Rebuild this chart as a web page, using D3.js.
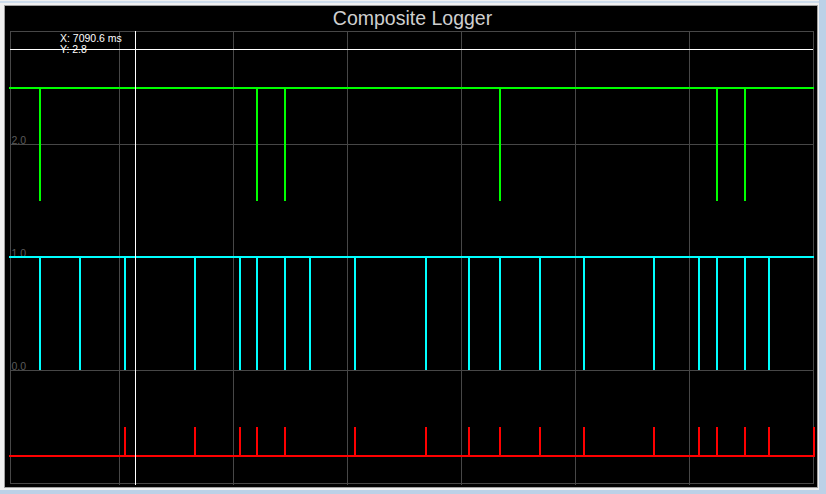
<!DOCTYPE html>
<html>
<head>
<meta charset="utf-8">
<script src="https://cdn.jsdelivr.net/npm/d3@7"></script>
<style>
  html, body { margin: 0; padding: 0; background: #f0f0f0; overflow: hidden; }
  svg { display: block; font-family: "Liberation Sans", Arial, sans-serif; }
</style>
</head>
<body>
<svg id="chart" width="826" height="494"></svg>
<script>
// time window shown (ms) and trace span
const xDomain = [6405, 10805];
const traceSpan = [6400, 10810];
const yDomain = [-1, 3];

// vertical grid positions (ms) and y ticks
const xGrid = [7000, 7625, 8250, 8875, 9500, 10125];
const yTicks = [0, 1, 2];
const yTickLabels = ['0.0', '1.0', '2.0'];

// green trace: high 2.5, dips to 1.5
const greenEvents = [6569, 7758, 7912, 9090, 10279, 10432];
// cyan trace: high 1.0, dips to 0.0
const cyanEvents = [6569, 6789, 7035, 7419, 7665, 7758, 7912, 8049, 8295, 8685,
  8920, 9090, 9309, 9550, 9934, 10180, 10279, 10432, 10564];
// red trace: base -0.76, spikes to -0.5
const redEvents = [7035, 7419, 7665, 7758, 7912, 8295, 8685, 8920, 9090, 9309,
  9550, 9934, 10180, 10279, 10432, 10564, 10810];

const cursor = { x: 7090.6, y: 2.84 };

const svg = d3.select('#chart');
const W = 826, H = 494;
const plot = { left: 10, right: 813, top: 31, bottom: 483 };

// window frame
svg.append('rect').attr('width', W).attr('height', H).attr('fill', '#f0f0f0');
svg.append('rect').attr('x', 0).attr('y', 1).attr('width', W).attr('height', 2).attr('fill', '#cddcec');
svg.append('rect').attr('x', 819).attr('y', 0).attr('width', 7).attr('height', H).attr('fill', '#bcd1e7');
svg.append('rect').attr('x', 0).attr('y', 490).attr('width', W).attr('height', 4).attr('fill', '#bcd1e7');
svg.append('rect').attr('x', 4.5).attr('y', 5.5).attr('width', 813).attr('height', 482)
  .attr('fill', '#000').attr('stroke', '#a0a0a0').attr('stroke-width', 1);

const x = d3.scaleLinear().domain(xDomain).range([plot.left, plot.right]);
const y = d3.scaleLinear().domain(yDomain).range([plot.bottom, plot.top]);
const cx = v => Math.round(x(v)) + 0.5;
const cy = v => Math.round(y(v)) + 0.5;

// grid
const grid = svg.append('g').attr('stroke', '#474747').attr('stroke-width', 1);
grid.selectAll('line.v').data(xGrid).join('line')
  .attr('class', 'v')
  .attr('x1', d => cx(d)).attr('x2', d => cx(d))
  .attr('y1', plot.top).attr('y2', plot.bottom + 2);
grid.selectAll('line.h').data(yTicks).join('line')
  .attr('class', 'h')
  .attr('x1', plot.left).attr('x2', plot.right)
  .attr('y1', d => cy(d)).attr('y2', d => cy(d));
svg.append('rect')
  .attr('x', plot.left + 0.5).attr('y', plot.top + 0.5)
  .attr('width', plot.right - plot.left).attr('height', plot.bottom - plot.top)
  .attr('fill', 'none').attr('stroke', '#474747');

// y labels
svg.selectAll('text.ytick').data(yTicks).join('text')
  .attr('class', 'ytick')
  .attr('x', plot.left + 1.5)
  .attr('y', d => Math.round(y(d)) - 0.5)
  .attr('fill', '#5a5a5a')
  .attr('font-size', 10.5)
  .text((d, i) => yTickLabels[i]);

// title
svg.append('text')
  .attr('x', 412.5).attr('y', 25)
  .attr('text-anchor', 'middle')
  .attr('fill', '#cfcfcf')
  .attr('font-size', 19.5)
  .text('Composite Logger');

// traces
const line = d3.line().x(d => Math.round(x(d[0]))).y(d => Math.round(y(d[1])));
function pulses(events, base, peak) {
  const pts = [[traceSpan[0], base]];
  events.forEach(t => { pts.push([t, base], [t, peak], [t, base]); });
  pts.push([traceSpan[1], base]);
  return pts;
}
const traces = [
  { events: greenEvents, base: 2.5, peak: 1.5, color: '#00ff00' },
  { events: cyanEvents, base: 1.0, peak: 0.0, color: '#00ffff' },
  { events: redEvents, base: -0.76, peak: -0.5, color: '#ff0000' },
];
svg.selectAll('path.trace').data(traces).join('path')
  .attr('class', 'trace')
  .attr('d', d => line(pulses(d.events, d.base, d.peak)))
  .attr('fill', 'none')
  .attr('stroke', d => d.color)
  .attr('stroke-width', 2)
  .attr('stroke-linejoin', 'miter')
  .attr('stroke-linecap', 'butt');

// cursor crosshair
svg.append('line')
  .attr('x1', cx(cursor.x)).attr('x2', cx(cursor.x))
  .attr('y1', plot.top).attr('y2', plot.bottom + 2)
  .attr('stroke', '#fff');
svg.append('line')
  .attr('x1', plot.left).attr('x2', plot.right)
  .attr('y1', cy(cursor.y)).attr('y2', cy(cursor.y))
  .attr('stroke', '#fff');
svg.append('text')
  .attr('x', 60).attr('y', 41.5)
  .attr('fill', '#fff').attr('font-size', 10.5)
  .text(`X: ${cursor.x.toFixed(1)} ms`);
svg.append('text')
  .attr('x', 60).attr('y', 53)
  .attr('fill', '#fff').attr('font-size', 10.5)
  .text(`Y: ${cursor.y.toFixed(1)}`);
</script>
</body>
</html>
